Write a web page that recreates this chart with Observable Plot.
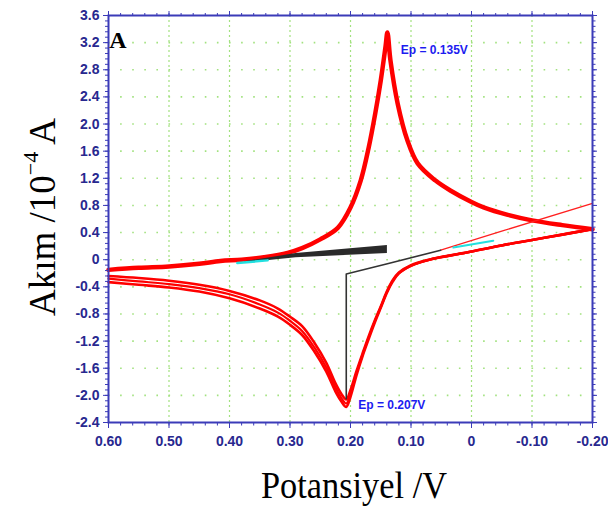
<!DOCTYPE html>
<html><head><meta charset="utf-8">
<script src="https://cdn.jsdelivr.net/npm/d3@7"></script>
<script src="https://cdn.jsdelivr.net/npm/@observablehq/plot@0.6"></script>
<style>body{margin:0;background:#fff}</style>
</head><body><div id="chart"></div>
<script>
// tick values and labels
const xTicks = [0.6, 0.5, 0.4, 0.3, 0.2, 0.1, 0, -0.1, -0.2];
const xLabels = ["0.60", "0.50", "0.40", "0.30", "0.20", "0.10", "0", "-0.10", "-0.20"];
const yTicks = [3.6, 3.2, 2.8, 2.4, 2.0, 1.6, 1.2, 0.8, 0.4, 0, -0.4, -0.8, -1.2, -1.6, -2.0, -2.4];
const yLabels = ["3.6", "3.2", "2.8", "2.4", "2.0", "1.6", "1.2", "0.8", "0.4", "0", "-0.4", "-0.8", "-1.2", "-1.6", "-2.0", "-2.4"];

// anodic sweep (red, thick)
const anoX = [0.60, 0.55, 0.50, 0.45, 0.415, 0.38, 0.34, 0.304, 0.28, 0.25, 0.221, 0.20, 0.183, 0.17, 0.159, 0.15, 0.142, 0.139, 0.134, 0.122, 0.106, 0.089, 0.06, 0.035, 0.0, -0.02, -0.06, -0.10, -0.15, -0.20];
const anoY = [-0.15, -0.12, -0.10, -0.06, -0.02, 0.0, 0.04, 0.10, 0.17, 0.30, 0.47, 0.77, 1.17, 1.65, 2.16, 2.64, 3.15, 3.35, 2.94, 2.30, 1.76, 1.42, 1.17, 1.02, 0.85, 0.77, 0.66, 0.58, 0.51, 0.45];

// cathodic sweep (red, three cycles)
const catX = [0.60, 0.55, 0.50, 0.45, 0.40, 0.35, 0.32, 0.30, 0.28, 0.26, 0.24, 0.225, 0.215, 0.207, 0.200, 0.19, 0.18, 0.17, 0.16, 0.15, 0.14, 0.13, 0.12, 0.10, 0.07, 0.0, -0.05, -0.10, -0.15, -0.20];
const catY1 = [-0.24, -0.27, -0.31, -0.37, -0.46, -0.60, -0.72, -0.84, -0.98, -1.22, -1.52, -1.82, -1.98, -2.06, -1.92, -1.64, -1.38, -1.13, -0.90, -0.69, -0.47, -0.30, -0.19, -0.08, 0.0, 0.12, 0.21, 0.29, 0.37, 0.45];
const catY2 = [-0.28, -0.32, -0.36, -0.42, -0.51, -0.66, -0.78, -0.90, -1.05, -1.29, -1.59, -1.88, -2.04, -2.12, -1.97, -1.67, -1.40, -1.15, -0.91, -0.70, -0.48, -0.31, -0.20, -0.09, 0.0, 0.12, 0.21, 0.29, 0.37, 0.45];
const catY3 = [-0.33, -0.37, -0.41, -0.47, -0.57, -0.72, -0.84, -0.96, -1.11, -1.35, -1.65, -1.94, -2.09, -2.17, -2.02, -1.70, -1.42, -1.17, -0.93, -0.71, -0.49, -0.32, -0.20, -0.09, 0.0, 0.12, 0.21, 0.29, 0.37, 0.45];

// thin red return line
const thinX = [-0.20, -0.05, 0.051];
const thinY = [0.83, 0.42, 0.14];
// thin black line with peak marker
const markX = [0.051, 0.139, 0.207, 0.207];
const markY = [0.14, -0.06, -0.21, -2.05];
// thick black band
const bandX = [0.375, 0.29, 0.139];
const bandLo = [-0.05, 0.03, 0.09];
const bandHi = [-0.03, 0.09, 0.21];
// cyan segments
const cyan1X = [0.387, 0.337];
const cyan1Y = [-0.05, -0.01];
const cyan2X = [0.03, -0.036];
const cyan2Y = [0.18, 0.28];

// annotations
const annX = [0.135, 0.207];
const annY = [3.35, -2.15];
const annText = ["Ep = 0.135V", "Ep = 0.207V"];

const pts = (xs, ys) => xs.map((x, i) => ({x, y: ys[i]}));
const band = bandX.map((x, i) => ({x, lo: bandLo[i], hi: bandHi[i]}));
const ann = annX.map((x, i) => ({x, y: annY[i], t: annText[i]}));

const xMinor = d3.range(-0.2, 0.6001, 0.02).map(v => +v.toFixed(2));
const yMinor = d3.range(-2.4, 3.6001, 0.08).map(v => +v.toFixed(2));
const lab = (ticks, labels) => d => { const i = ticks.findIndex(t => Math.abs(t - d) < 1e-6); return i >= 0 ? labels[i] : ""; };

const axisBlue = "#3b3bb8";
const textBlue = "#28288f";
const green = "#a2e27f";
const red = "#ff0000";

const chart = Plot.plot({
  width: 608, height: 510,
  marginLeft: 108, marginRight: 16, marginTop: 15, marginBottom: 88,
  x: {domain: [0.6, -0.2]},
  y: {domain: [-2.4, 3.6]},
  style: {background: "white", fontFamily: "Liberation Sans, Arial, sans-serif"},
  marks: [
    Plot.ruleY(yTicks.filter(v => v > -2.4 && v < 3.6), {stroke: green, strokeWidth: 1.6, strokeDasharray: "1.6,10.5"}),
    Plot.ruleX(xTicks.filter(v => v > -0.2 && v < 0.6), {stroke: green, strokeWidth: 1.2, strokeDasharray: "2,3"}),
    Plot.line(pts(catX, catY1), {x: "x", y: "y", stroke: red, strokeWidth: 2.6, curve: "catmull-rom"}),
    Plot.line(pts(catX, catY2), {x: "x", y: "y", stroke: red, strokeWidth: 2.2, curve: "catmull-rom"}),
    Plot.line(pts(catX, catY3), {x: "x", y: "y", stroke: red, strokeWidth: 2.6, curve: "catmull-rom"}),
    Plot.line(pts(anoX, anoY), {x: "x", y: "y", stroke: red, strokeWidth: 4.5, curve: "catmull-rom"}),
    Plot.line(pts(thinX, thinY), {x: "x", y: "y", stroke: "#ff2020", strokeWidth: 1.3}),
    Plot.areaY(band, {x: "x", y1: "lo", y2: "hi", fill: "#2a2a2a"}),
    Plot.line(pts(cyan1X, cyan1Y), {x: "x", y: "y", stroke: "#22e0e0", strokeWidth: 2.5}),
    Plot.line(pts(cyan2X, cyan2Y), {x: "x", y: "y", stroke: "#22e0e0", strokeWidth: 2}),
    Plot.line(pts(markX, markY), {x: "x", y: "y", stroke: "#333", strokeWidth: 1.6}),
    Plot.text(ann, {x: "x", y: "y", text: "t", textAnchor: "start", dx: 11, dy: 18, fill: "#1c1cf0", fontWeight: "bold", fontSize: 12, filter: (d, i) => i === 0}),
    Plot.text(ann, {x: "x", y: "y", text: "t", textAnchor: "start", dx: 12, dy: 0, fill: "#1c1cf0", fontWeight: "bold", fontSize: 12, filter: (d, i) => i === 1}),
    Plot.frame({stroke: axisBlue, strokeWidth: 2}),
    Plot.axisY({ticks: yTicks, tickFormat: lab(yTicks, yLabels), tickSize: 5, tickPadding: 4, color: textBlue, stroke: axisBlue, fontWeight: "bold", fontSize: 14, label: null}),
    Plot.axisY({ticks: yMinor, tickFormat: () => "", tickSize: 3, stroke: axisBlue, label: null}),
    Plot.axisY({anchor: "right", ticks: yTicks, tickFormat: () => "", tickSize: 4, stroke: axisBlue, label: null}),
    Plot.axisY({anchor: "right", ticks: yMinor, tickFormat: () => "", tickSize: 2.5, stroke: axisBlue, label: null}),
    Plot.axisX({ticks: xTicks, tickFormat: lab(xTicks, xLabels), tickSize: 6, tickPadding: 8, color: textBlue, stroke: axisBlue, fontWeight: "bold", fontSize: 14, label: null}),
    Plot.axisX({ticks: xMinor, tickFormat: () => "", tickSize: 3.5, stroke: axisBlue, label: null}),
    Plot.axisX({anchor: "top", ticks: xTicks, tickFormat: () => "", tickSize: 5, stroke: axisBlue, label: null}),
    Plot.axisX({anchor: "top", ticks: xMinor, tickFormat: () => "", tickSize: 3, stroke: axisBlue, label: null})
  ]
});

const svg = d3.select(chart);
// panel letter
svg.append("text").attr("x", 118).attr("y", 48)
  .attr("font-family", "Liberation Serif, Times New Roman, serif").attr("font-weight", "bold")
  .attr("font-size", 24).attr("fill", "#000").text("A");
// x title
svg.append("text").attr("x", 354).attr("y", 498).attr("text-anchor", "middle")
  .attr("font-family", "Liberation Serif, Times New Roman, serif").attr("font-size", 37)
  .attr("textLength", 186).attr("lengthAdjust", "spacingAndGlyphs")
  .attr("fill", "#000").text("Potansiyel /V");
// y title
const yt = svg.append("text").attr("transform", "translate(55,217) rotate(-90)").attr("text-anchor", "middle")
  .attr("font-family", "Liberation Serif, Times New Roman, serif").attr("font-size", 37).attr("fill", "#000");
yt.append("tspan").text("Akım /10");
yt.append("tspan").attr("font-size", 22).attr("dy", -17).text("−4");
yt.append("tspan").attr("dy", 17).text(" A");

document.getElementById("chart").appendChild(chart);
</script>
</body></html>
